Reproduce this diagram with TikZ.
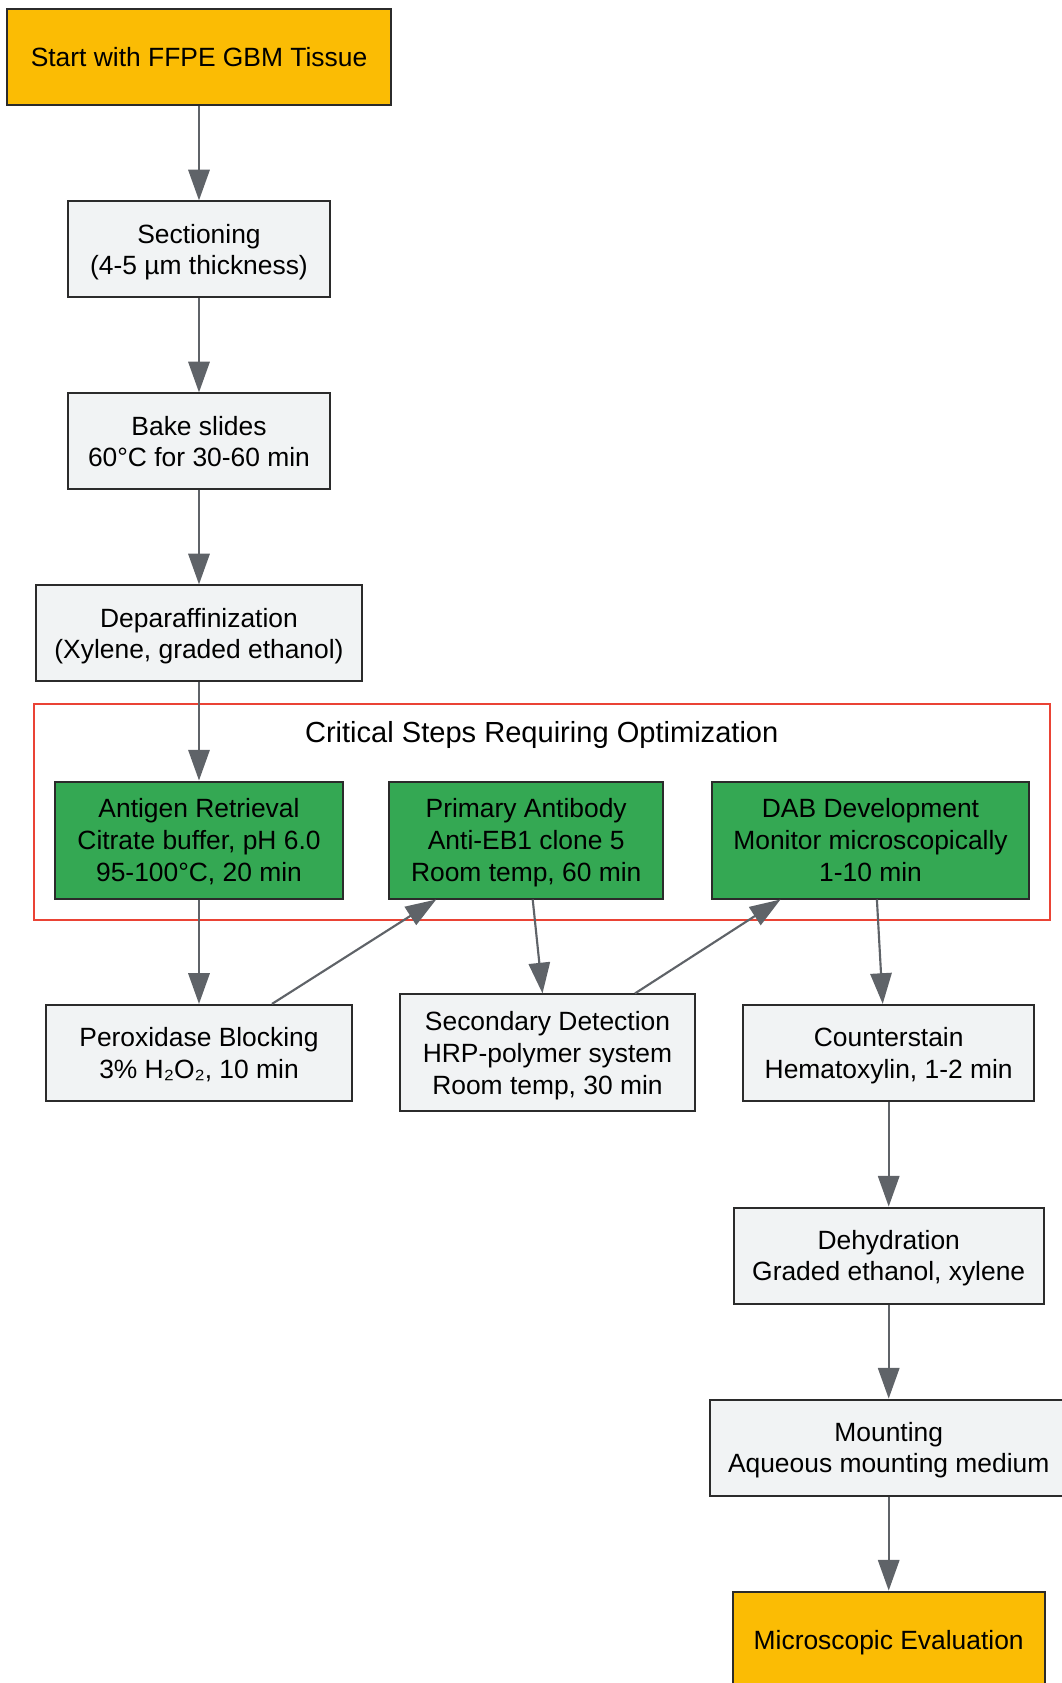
\documentclass[tikz,border=0pt]{standalone}
\usepackage{fontspec}
\setmainfont{Liberation Sans}
\usepackage{xcolor}
\usetikzlibrary{arrows.meta, calc, positioning}
\definecolor{startgold}{HTML}{FBBC04}
\definecolor{critgreen}{HTML}{34A853}
\definecolor{stepgray}{HTML}{F1F3F4}
\definecolor{edgegray}{HTML}{5F6368}
\definecolor{borderdark}{HTML}{2B2B2B}
\definecolor{critred}{HTML}{EA4335}
\tikzset{
  stepbox/.style={draw=borderdark, fill=stepgray, line width=1.5pt, align=center,
    inner sep=0pt, text depth=0pt, minimum height=72pt, font=\fontsize{19.8}{23.7}\selectfont},
  startbox/.style={stepbox, fill=startgold},
  critbox/.style={stepbox, fill=critgreen, minimum height=87.75pt},
}

\begin{document}
\begin{tikzpicture}[x=0.75pt, y=-0.75pt, >={Triangle[length=23pt,width=16pt]}]
                                \useasboundingbox (0,0) rectangle (1062,1683);
                                % critical steps
                                \draw[critred, line width=1.5pt] (33.5,703.5) rectangle (1050,920);
                                \node[font=\fontsize{21.8}{26}\selectfont, text depth=0pt] (crit) at (541.7,731.5) {Critical Steps Requiring Optimization};

                                \node[startbox, minimum width=287.3pt] (1) at (199,57.4) {Start with FFPE GBM Tissue};
                                \node[stepbox, minimum width=196.3pt] (2) at (199,249.4) {Sectioning\\(4-5 µm thickness)};
                                \node[stepbox, minimum width=196.3pt] (3) at (199,441.4) {Bake slides\\60°C for 30-60 min};
                                \node[stepbox, minimum width=243.8pt] (4) at (199,633.4) {Deparaffinization\\(Xylene, graded ethanol)};
                                \node[critbox, minimum width=215.6pt] (5) at (199,840) {Antigen Retrieval\\Citrate buffer, pH 6.0\\95-100°C, 20 min};
                                \node[critbox, minimum width=205.2pt] (6) at (526.2,840) {Primary Antibody\\Anti-EB1 clone 5\\Room temp, 60 min};
                                \node[critbox, minimum width=238.1pt] (7) at (870.5,840) {DAB Development\\Monitor microscopically\\1-10 min};
                                \node[stepbox, minimum width=230.1pt] (8) at (199,1052.9) {Peroxidase Blocking\\3\% H₂O₂, 10 min};
                                \node[stepbox, minimum width=221.3pt, minimum height=87.75pt] (9) at (547.5,1052.9) {Secondary Detection\\HRP-polymer system\\Room temp, 30 min};
                                \node[stepbox, minimum width=218pt] (10) at (888.7,1052.9) {Counterstain\\Hematoxylin, 1-2 min};
                                \node[stepbox, minimum width=232.5pt] (11) at (888.7,1255.6) {Dehydration\\Graded ethanol, xylene};
                                \node[stepbox, minimum width=268.5pt] (12) at (888.7,1447.6) {Mounting\\Aqueous mounting medium};
                                \node[startbox, minimum width=234pt] (13) at (888.7,1639.6) {Microscopic Evaluation};

                                \draw[edgegray, line width=1.6pt]
                                (1) edge[->] (2)
                                (2) edge[->] (3)
                                (3) edge[->] (4)
                                (4) edge[->] (5)
                                (5) edge[->] (8)
                                ($(8.north)+(73,0)$) edge[->] ($(6.south)+(-90,0)$)
                                ($(6.south)+(6.5,0)$) edge[->] ($(9.north)+(-5,0)$)
                                ($(9.north)+(87.5,0)$) edge[->] ($(7.south)+(-90,0)$)
                                ($(7.south)+(6.4,0)$) edge[->] ($(10.north)+(-6,0)$)
                                (10) edge[->] (11)
                                (11) edge[->] (12)
                                (12) edge[->] (13);
                            \end{tikzpicture}
\end{document}
